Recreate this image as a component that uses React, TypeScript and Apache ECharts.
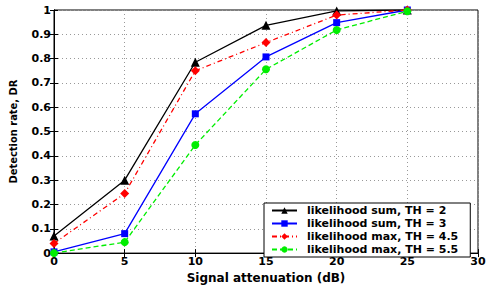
import React, { useEffect, useRef } from "react";
import * as echarts from "echarts";

const xValues = [0, 5, 10, 15, 20, 25];
const seriesNames = [
  "likelihood sum, TH = 2",
  "likelihood sum, TH = 3",
  "likelihood max, TH = 4.5",
  "likelihood max, TH = 5.5",
];
const sumTH2 = [0.07, 0.3, 0.785, 0.937, 0.996, 1.0];
const sumTH3 = [0.005, 0.08, 0.573, 0.807, 0.948, 1.0];
const maxTH45 = [0.04, 0.245, 0.75, 0.866, 0.979, 1.0];
const maxTH55 = [0.0, 0.045, 0.445, 0.756, 0.918, 0.995];

const FONT = "'DejaVu Sans', 'Liberation Sans', Arial, sans-serif";
const NARROW = "'Liberation Sans Narrow', 'DejaVu Sans Condensed', 'Liberation Sans', sans-serif";

export default function App() {
  const ref = useRef<HTMLDivElement>(null);
  useEffect(() => {
    if (!ref.current) return;
    const chart = echarts.init(ref.current, null, { renderer: "svg" });
    const mk = (name: string, data: number[], color: string, symbol: string, size: number, type: any) => ({
      name,
      type: "line",
      data: xValues.map((x, i) => [x, data[i]]),
      symbol,
      symbolSize: size,
      itemStyle: { color },
      lineStyle: { color, width: 1.3, type },
      emphasis: { disabled: true },
    });
    const gridLine = { show: true, lineStyle: { color: "#999", type: [1, 3], width: 1 } };
    chart.setOption({
      animation: false,
      backgroundColor: "#fff",
      grid: { left: 54, right: 15, top: 10, bottom: 27, show: true, borderColor: "#000", borderWidth: 1 },
      xAxis: [
        {
          type: "value",
          min: 0,
          max: 30,
          interval: 5,
          name: "Signal attenuation (dB)",
          nameLocation: "middle",
          nameGap: 18,
          nameTextStyle: { fontFamily: FONT, fontWeight: "bold", fontSize: 12, color: "#000" },
          axisLine: { show: true, lineStyle: { color: "#000" } },
          axisTick: { show: true, inside: true, length: 4, lineStyle: { color: "#000" } },
          axisLabel: { fontFamily: FONT, fontWeight: "bold", fontSize: 11, color: "#000", margin: 3 },
          splitLine: gridLine,
        },
        {
          type: "value",
          position: "top",
          min: 0,
          max: 30,
          interval: 5,
          axisLine: { show: true, lineStyle: { color: "#000" } },
          axisTick: { show: true, inside: true, length: 4, lineStyle: { color: "#000" } },
          axisLabel: { show: false },
          splitLine: { show: false },
        },
      ],
      yAxis: [
        {
          type: "value",
          min: 0,
          max: 1,
          interval: 0.1,
          name: "Detection rate, DR",
          nameLocation: "middle",
          nameGap: 35,
          nameTextStyle: { fontFamily: NARROW, fontWeight: "bold", fontSize: 11, color: "#000" },
          axisLine: { show: true, lineStyle: { color: "#000" } },
          axisTick: { show: true, inside: true, length: 4, lineStyle: { color: "#000" } },
          axisLabel: {
            fontFamily: FONT,
            fontWeight: "bold",
            fontSize: 11,
            color: "#000",
            margin: 3,
            formatter: (v: number) => (v === 0 ? "0" : v === 1 ? "1" : String(Math.round(v * 10) / 10)),
          },
          splitLine: gridLine,
        },
        {
          type: "value",
          position: "right",
          min: 0,
          max: 1,
          interval: 0.1,
          axisLine: { show: true, lineStyle: { color: "#000" } },
          axisTick: { show: true, inside: true, length: 4, lineStyle: { color: "#000" } },
          axisLabel: { show: false },
          splitLine: { show: false },
        },
      ],
      legend: {
        left: 264,
        top: 203,
        orient: "vertical",
        backgroundColor: "#fff",
        borderColor: "#000",
        borderWidth: 1,
        borderRadius: 0,
        padding: [1, 12, 1, 7],
        itemGap: 0,
        itemWidth: 25,
        itemHeight: 8,
        textStyle: {
          fontFamily: FONT,
          fontWeight: "bold",
          fontSize: 11,
          lineHeight: 13,
          color: "#000",
          padding: [0, 0, 0, 5],
        },
        data: seriesNames,
      },
      series: [
        mk(seriesNames[0], sumTH2, "#000000", "triangle", 9, "solid"),
        mk(seriesNames[1], sumTH3, "#0000ff", "rect", 7, "solid"),
        mk(seriesNames[2], maxTH45, "#ff0000", "diamond", 9, [5, 3, 1, 3]),
        mk(seriesNames[3], maxTH55, "#00ee00", "circle", 8, [5, 3]),
      ],
    });
    return () => chart.dispose();
  }, []);
  return (
    <div
      ref={ref}
      style={{ position: "absolute", left: 0, top: 0, width: 493, height: 289 }}
    />
  );
}
